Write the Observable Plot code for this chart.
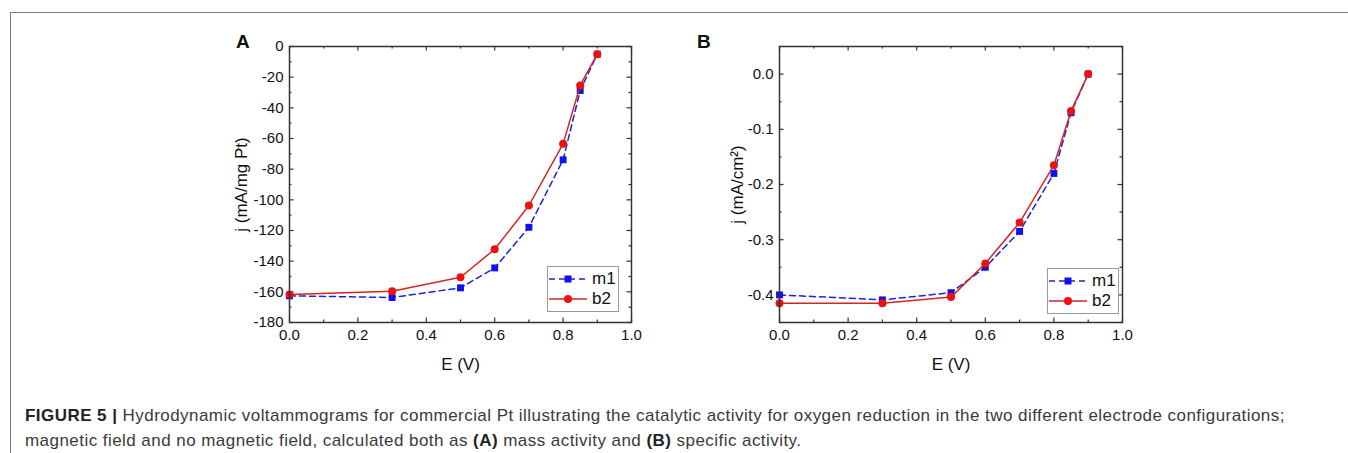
<!DOCTYPE html>
<html>
<head>
<meta charset="utf-8">
<script src="https://cdn.jsdelivr.net/npm/d3@7"></script>
<script src="https://cdn.jsdelivr.net/npm/@observablehq/plot@0.6"></script>
<style>
  html, body { margin: 0; padding: 0; background: #fff; }
  #page { position: relative; width: 1348px; height: 453px; overflow: hidden; font-family: "Liberation Sans", Arial, sans-serif; }
  #border { position: absolute; left: 10px; top: 12px; width: 1400px; height: 500px; border-left: 1.5px solid #7a7a7a; border-top: 1.5px solid #7a7a7a; }
  .panel { position: absolute; }
  .plabel { position: absolute; font-weight: bold; font-size: 19px; color: #111; line-height: 1; }
  .legend { position: absolute; border: 1px solid #9a9a9a; background: #fff; }
  .legend .row { position: absolute; left: 0; height: 20px; display: flex; align-items: center; }
  .legend .row span { font-size: 17px; color: #111; margin-left: 4px; }
  #caption { position: absolute; left: 25px; top: 403px; font-size: 17px; letter-spacing: 0.45px; line-height: 25px; color: #3a3a3a; white-space: nowrap; }
  #caption b { color: #222; }
</style>
</head>
<body>
<div id="page">
  <div id="border"></div>
  <div class="plabel" style="left:236px; top:32px;">A</div>
  <div class="plabel" style="left:697px; top:32px;">B</div>
  <div id="panelA" class="panel" style="left:200px; top:20px;"></div>
  <div id="panelB" class="panel" style="left:690px; top:20px;"></div>
  <div id="caption"><b>FIGURE 5 |</b> Hydrodynamic voltammograms for commercial Pt illustrating the catalytic activity for oxygen reduction in the two different electrode configurations;<br>magnetic field and no magnetic field, calculated both as <b>(A)</b> mass activity and <b>(B)</b> specific activity.</div>
</div>
<script>
// ---- data ----
const potential = [0.0, 0.3, 0.5, 0.6, 0.7, 0.8, 0.85, 0.9];
const massM1 = [-162.6, -163.7, -157.4, -144.4, -117.9, -73.9, -28.7, -5.0];
const massB2 = [-161.8, -159.6, -150.5, -132.2, -103.7, -63.5, -25.4, -5.0];
const specM1 = [-0.400, -0.409, -0.396, -0.350, -0.285, -0.180, -0.070, 0.000];
const specB2 = [-0.415, -0.415, -0.404, -0.343, -0.269, -0.165, -0.067, 0.000];
const seriesNames = ["m1", "b2"];
const seriesColors = {m1: "#1010ee", b2: "#ee1111"};
const lineColors = {m1: "#2020d8", b2: "#d42424"};

const xMajor = [0, 0.2, 0.4, 0.6, 0.8, 1.0];
const xMinor = [0.1, 0.3, 0.5, 0.7, 0.9];
const yMajorA = [-180, -160, -140, -120, -100, -80, -60, -40, -20, 0];
const yMinorA = [-170, -150, -130, -110, -90, -70, -50, -30, -10];
const yMajorB = [-0.4, -0.3, -0.2, -0.1, 0.0];
const yMinorB = [-0.45, -0.35, -0.25, -0.15, -0.05, 0.05];

function rows(m1, b2) {
  const out = [];
  potential.forEach((e, i) => out.push({E: e, j: m1[i], s: "m1"}));
  potential.forEach((e, i) => out.push({E: e, j: b2[i], s: "b2"}));
  return out;
}

const W = 450, H = 360, ML = 89, MT = 26, MB = 58;
function panel(data, yDomain, yMajor, yMinor, yFmt, yLabel, mr, yLabelOffset) {
  const pw = W - ML - mr, ph = H - MT - MB;
  const maj = 4.5, min = 2.5;
  return Plot.plot({
    width: W, height: H,
    marginLeft: ML, marginRight: mr, marginTop: MT, marginBottom: MB,
    style: {fontFamily: "Liberation Sans, Arial, sans-serif", fontSize: "15px", color: "#111", background: "transparent"},
    x: {domain: [0, 1], ticks: xMajor, tickFormat: d => d.toFixed(1)},
    y: {domain: yDomain, ticks: yMajor, tickFormat: yFmt},
    marks: [
      Plot.axisX({ticks: xMajor, tickFormat: d => d.toFixed(1), tickSize: 0, tickPadding: 7, label: null, fontSize: 15}),
      Plot.axisX({ticks: [], tickSize: 0, label: "E (V)", labelAnchor: "center", labelArrow: "none", labelOffset: 47, fontSize: 17}),
      Plot.axisY({ticks: yMajor, tickFormat: yFmt, tickSize: 0, tickPadding: 6, label: null, fontSize: 15}),
      Plot.axisY({ticks: [], tickSize: 0, label: yLabel, labelAnchor: "center", labelArrow: "none", labelOffset: yLabelOffset, fontSize: 17}),
      // inward ticks: bottom / top
      Plot.tickX(xMajor, {x: d => d, insetTop: ph - maj, stroke: "#333", strokeWidth: 1.2}),
      Plot.tickX(xMinor, {x: d => d, insetTop: ph - min, stroke: "#333", strokeWidth: 1.2}),
      Plot.tickX(xMajor, {x: d => d, insetBottom: ph - maj, stroke: "#333", strokeWidth: 1.2}),
      Plot.tickX(xMinor, {x: d => d, insetBottom: ph - min, stroke: "#333", strokeWidth: 1.2}),
      // inward ticks: left / right
      Plot.tickY(yMajor, {y: d => d, insetRight: pw - maj, stroke: "#333", strokeWidth: 1.2}),
      Plot.tickY(yMinor, {y: d => d, insetRight: pw - min, stroke: "#333", strokeWidth: 1.2}),
      Plot.tickY(yMajor, {y: d => d, insetLeft: pw - maj, stroke: "#333", strokeWidth: 1.2}),
      Plot.tickY(yMinor, {y: d => d, insetLeft: pw - min, stroke: "#333", strokeWidth: 1.2}),
      Plot.line(data.filter(d => d.s === "m1"), {x: "E", y: "j", stroke: lineColors.m1, strokeWidth: 1.5, strokeDasharray: "6,4"}),
      Plot.dot(data.filter(d => d.s === "m1"), {x: "E", y: "j", symbol: "square", r: 3.9, fill: seriesColors.m1, stroke: "none"}),
      Plot.line(data.filter(d => d.s === "b2"), {x: "E", y: "j", stroke: lineColors.b2, strokeWidth: 1.5}),
      Plot.dot(data.filter(d => d.s === "b2"), {x: "E", y: "j", symbol: "circle", r: 4, fill: seriesColors.b2, stroke: "none"}),
      Plot.frame({stroke: "#333", strokeWidth: 1.5})
    ]
  });
}

document.getElementById("panelA").appendChild(
  panel(rows(massM1, massB2), [-180, 0], yMajorA, yMinorA, d => String(d), "j (mA/mg Pt)", 19, 55));
document.getElementById("panelB").appendChild(
  panel(rows(specM1, specB2), [-0.45, 0.05], yMajorB, yMinorB, d => d.toFixed(1), "j (mA/cm²)", 18, 49));

function legend(left, top) {
  const div = document.createElement("div");
  div.className = "legend";
  div.style.left = left + "px"; div.style.top = top + "px";
  div.style.width = "70px"; div.style.height = "44px";
  seriesNames.forEach((name, i) => {
    const row = document.createElement("div");
    row.className = "row";
    row.style.top = (i === 0 ? 2 : 22) + "px";
    const svg = d3.create("svg").attr("width", 40).attr("height", 20);
    svg.append("line").attr("x1", 1).attr("x2", 39).attr("y1", 10).attr("y2", 10)
      .attr("stroke", lineColors[name]).attr("stroke-width", 1.5)
      .attr("stroke-dasharray", name === "m1" ? "6,4" : null);
    if (name === "m1") svg.append("rect").attr("x", 16.5).attr("y", 6.5).attr("width", 7).attr("height", 7).attr("fill", seriesColors.m1);
    else svg.append("circle").attr("cx", 20).attr("cy", 10).attr("r", 4).attr("fill", seriesColors.b2);
    row.appendChild(svg.node());
    const t = document.createElement("span"); t.textContent = name;
    row.appendChild(t);
    div.appendChild(row);
  });
  document.getElementById("page").appendChild(div);
}
legend(547, 266);
legend(1047, 268);
</script>
</body>
</html>
